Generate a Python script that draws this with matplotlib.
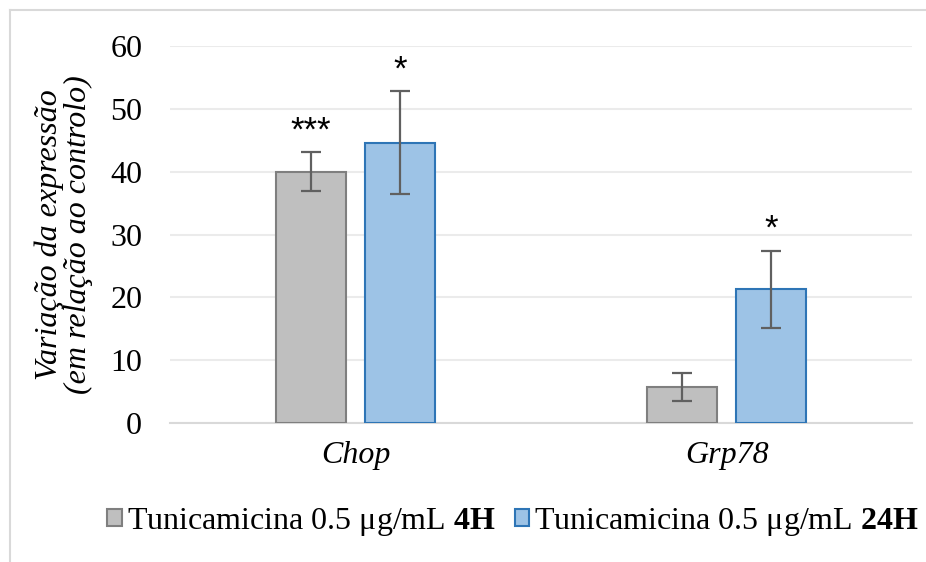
import numpy as np
import matplotlib
matplotlib.use("Agg")
import matplotlib.pyplot as plt
from matplotlib.lines import Line2D

plt.rcParams['font.family'] = ['Liberation Serif', 'DejaVu Serif']
plt.rcParams['mathtext.fontset'] = 'custom'
plt.rcParams['mathtext.rm'] = 'Liberation Serif'
plt.rcParams['mathtext.bf'] = 'Liberation Serif:bold'

# dados: variação da expressão relativa ao controlo
genes = ['Chop', 'Grp78']
media_4h = [40.0, 5.7]
erro_4h = [3.1, 2.2]
media_24h = [44.6, 21.3]
erro_24h = [8.2, 6.1]
sig_4h = ['***', '']
sig_24h = ['*', '*']
labels = [r'Tunicamicina 0.5 μg/mL $\mathbf{4H}$',
          r'Tunicamicina 0.5 μg/mL $\mathbf{24H}$']

fs = 23

fig = plt.figure(figsize=(9.26, 5.62), dpi=100)
ax = fig.add_axes([0.1836, 0.2473, 0.8014, 0.6707])

x = np.arange(len(genes))
w = 0.19
off = 0.12

err_kw = dict(ecolor='#606060', elinewidth=1.6, capsize=7, capthick=1.6)
b1 = ax.bar(x - off, media_4h, w, yerr=erro_4h, color='#bfbfbf',
            edgecolor='#7f7f7f', linewidth=1.5, error_kw=err_kw, zorder=3,
            label=labels[0])
b2 = ax.bar(x + off, media_24h, w, yerr=erro_24h, color='#9dc3e6',
            edgecolor='#2e75b6', linewidth=1.5, error_kw=err_kw, zorder=3,
            label=labels[1])

# asteriscos de significância
for xi, m, e, s in zip(x - off, media_4h, erro_4h, sig_4h):
    if s:
        ax.text(xi, m + e + 0.8, s, ha='center', va='bottom', fontsize=25,
                family='Liberation Sans')
for xi, m, e, s in zip(x + off, media_24h, erro_24h, sig_24h):
    if s:
        ax.text(xi, m + e + 0.8, s, ha='center', va='bottom', fontsize=25,
                family='Liberation Sans')

ax.set_xlim(-0.5, 1.5)
ax.set_ylim(0, 60)
ax.set_yticks(range(0, 61, 10))
ax.set_xticks(x)
ax.set_xticklabels(genes, style='italic')
ax.tick_params(axis='both', length=0, labelsize=fs)
ax.tick_params(axis='y', pad=20)
ax.tick_params(axis='x', pad=13)
ax.yaxis.grid(True, color='#ebebeb', linewidth=1.5, zorder=0)
ax.set_axisbelow(True)
for sp in ['top', 'right', 'left']:
    ax.spines[sp].set_visible(False)
ax.spines['bottom'].set_color('#d9d9d9')
ax.spines['bottom'].set_linewidth(1.5)

fig.text(0.069, 0.582, 'Variação da expressão\n(em relação ao controlo)',
         rotation=90, ha='center', va='center', fontsize=fs, style='italic',
         linespacing=1.0)

ax.legend(loc='center', bbox_to_anchor=(0.554, 0.071),
          bbox_transform=fig.transFigure, ncol=2, frameon=False,
          fontsize=fs, handlelength=0.45, handleheight=0.45,
          handletextpad=0.15, columnspacing=0.6)

# moldura do gráfico
fig.add_artist(Line2D([9.5 / 926, 9.5 / 926], [0, 1 - 9.5 / 562],
                      transform=fig.transFigure, color='#d9d9d9', lw=1.5))
fig.add_artist(Line2D([9.5 / 926, 1], [1 - 9.5 / 562, 1 - 9.5 / 562],
                      transform=fig.transFigure, color='#d9d9d9', lw=1.5))

fig.savefig('out.png', dpi=100)
